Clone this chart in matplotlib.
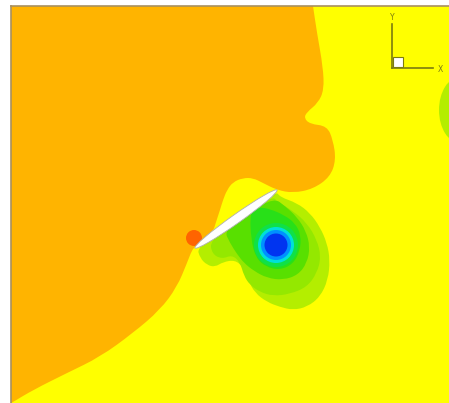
import math
import matplotlib
matplotlib.use("Agg")
import matplotlib.pyplot as plt
from matplotlib.patches import Circle, Ellipse, Rectangle, PathPatch
from matplotlib.path import Path

# ---- data (image-plane coordinates of the contour regions) ----
orange_x = [11, 11, 313, 313, 317, 323, 324, 318, 307, 304, 310, 327, 333, 336, 330, 313, 293, 277,
            263, 253, 243, 233, 227, 223, 220, 216, 213, 195, 192, 187, 177, 160, 133, 100,
            67, 33, 13, 11, 11]
orange_y = [200, 6, 6, 6, 33, 67, 90, 103, 112, 118, 124, 126, 140, 160, 177, 189, 193, 190,
            183, 178, 178, 182, 190, 200, 210, 222, 232, 247, 250, 263, 287, 310, 333, 357,
            373, 390, 402, 403, 403]
orange_sharp = [1, 2, 37, 38]

lg1_x = [197, 200, 207, 215, 223, 235, 243, 248, 255, 267, 280, 293, 307, 320, 328, 330,
         327, 320, 310, 297, 280, 276, 236]
lg1_y = [247, 258, 265, 267, 262, 260, 267, 280, 293, 302, 307, 310, 307, 297, 280, 260,
         243, 227, 213, 203, 197, 191, 219]

lg2_x = [210, 212, 222, 232, 240, 244, 250, 260, 273, 290, 307, 317, 321, 317, 307, 293,
         278, 272, 240]
lg2_y = [240, 254, 259, 255, 262, 276, 285, 292, 296, 294, 287, 273, 257, 240, 223, 211,
         202, 196, 220]

g3_x = [224, 230, 237, 244, 254, 267, 283, 298, 307, 310, 306, 297, 285, 274, 250]
g3_y = [230, 243, 254, 263, 271, 278, 280, 275, 263, 247, 231, 217, 206, 198, 212]

g4_x = [250, 251, 256, 266, 280, 293, 300, 301, 295, 284, 270, 258]
g4_y = [212, 240, 258, 267, 270, 264, 251, 235, 223, 215, 209, 207]

vortex_cx, vortex_cy = 276, 245
ring_radii = [22, 18, 15, 11.5]
ring_colors = ["#10e048", "#00e0d8", "#0090ff", "#0034f0"]

red_cx, red_cy, red_r = 194, 238, 8

rblob_cx, rblob_cy, rblob_w, rblob_h = 460, 110, 42, 66

airfoil_le = (195, 248)
airfoil_te = (277, 190)
airfoil_thick = 9


def smooth_path(xs, ys, sharp=()):
    """Closed quadratic-Bezier path using the given points as control points."""
    pts = list(zip(xs, ys))
    n = len(pts)
    mids = [((pts[i][0] + pts[(i + 1) % n][0]) / 2, (pts[i][1] + pts[(i + 1) % n][1]) / 2)
            for i in range(n)]
    verts = [mids[n - 1]]
    codes = [Path.MOVETO]
    for i in range(n):
        verts += [pts[i], mids[i]]
        if i in sharp:
            codes += [Path.LINETO, Path.LINETO]
        else:
            codes += [Path.CURVE3, Path.CURVE3]
    verts.append(mids[n - 1])
    codes.append(Path.CLOSEPOLY)
    return Path(verts, codes)


# ---- figure ----
W, H = 449, 403
fig = plt.figure(figsize=(W / 100, H / 100), dpi=100)
fig.patch.set_facecolor("white")
ax = fig.add_axes([11 / W, 0, (W - 11) / W, (H - 6) / H])
ax.set_xlim(11, 449)
ax.set_ylim(403, 6)
ax.set_facecolor("#ffff00")
ax.set_xticks([])
ax.set_yticks([])
for s in ["right", "bottom"]:
    ax.spines[s].set_visible(False)
for s in ["top", "left"]:
    ax.spines[s].set_color("#a89060")
    ax.spines[s].set_linewidth(1.2)

ax.add_patch(PathPatch(smooth_path(orange_x, orange_y, orange_sharp), fc="#ffb400", ec="none"))
ax.add_patch(Ellipse((rblob_cx, rblob_cy), rblob_w, rblob_h, fc="#b4ee00", ec="none"))
ax.add_patch(PathPatch(smooth_path(lg1_x, lg1_y), fc="#b4ee00", ec="none"))
ax.add_patch(PathPatch(smooth_path(lg2_x, lg2_y), fc="#94e800", ec="none"))
ax.add_patch(PathPatch(smooth_path(g3_x, g3_y), fc="#58e000", ec="none"))
ax.add_patch(PathPatch(smooth_path(g4_x, g4_y), fc="#28e018", ec="none"))
for r, c in zip(ring_radii, ring_colors):
    ax.add_patch(Circle((vortex_cx, vortex_cy), r, fc=c, ec="none"))
ax.add_patch(Circle((red_cx, red_cy), red_r, fc="#ff6400", ec="none"))

dx = airfoil_te[0] - airfoil_le[0]
dy = airfoil_te[1] - airfoil_le[1]
length = math.hypot(dx, dy)
ang = math.degrees(math.atan2(dy, dx))
ax.add_patch(Ellipse(((airfoil_le[0] + airfoil_te[0]) / 2, (airfoil_le[1] + airfoil_te[1]) / 2),
                     length, airfoil_thick, angle=ang, fc="white", ec="#b0b0b0", lw=0.6))

# axis triad
tc = "#7c7c10"
ax.plot([392, 392], [24, 68], color=tc, lw=1.2)
ax.plot([392, 433], [68, 68], color=tc, lw=1.2)
ax.add_patch(Rectangle((393, 57), 10, 10, fc="white", ec=tc, lw=0.8))
ax.text(392, 17, "Y", color=tc, fontsize=5.5, ha="center", va="center")
ax.text(440, 69, "X", color=tc, fontsize=5.5, ha="center", va="center")

fig.savefig("out.png", dpi=100)
